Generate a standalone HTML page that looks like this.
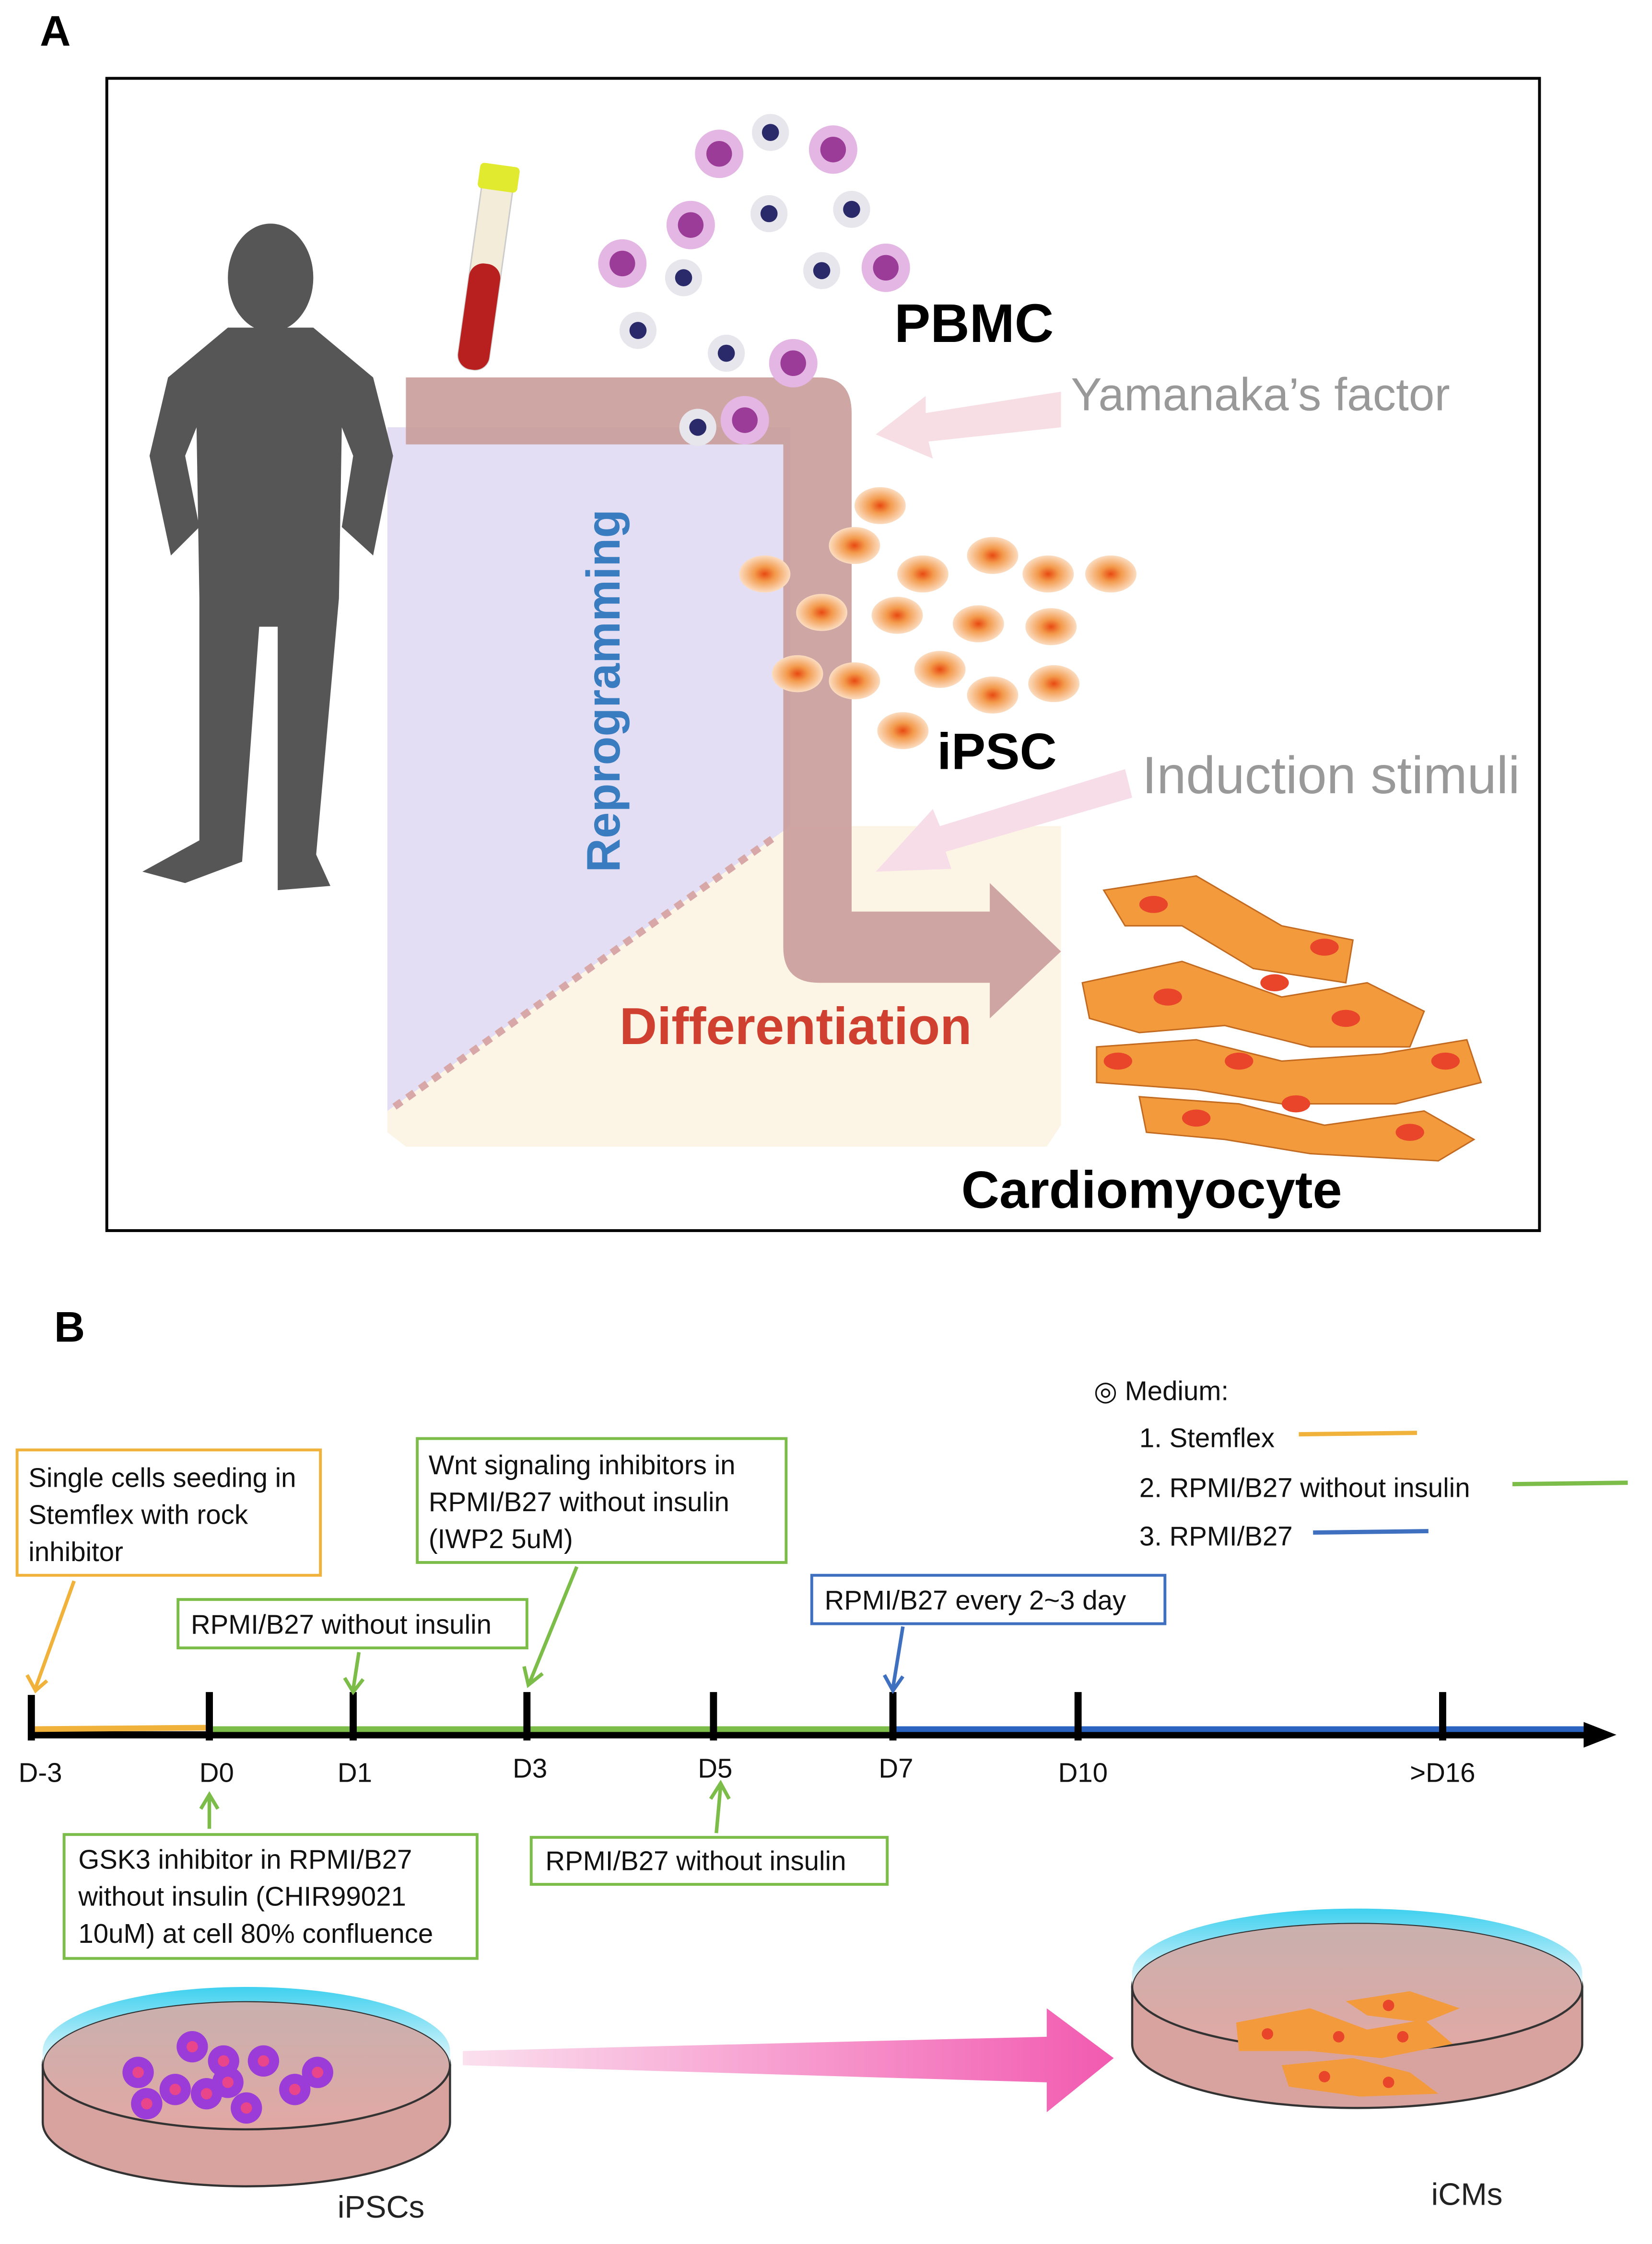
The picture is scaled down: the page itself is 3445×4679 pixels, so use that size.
<!DOCTYPE html>
<html><head><meta charset="utf-8"><style>html,body{margin:0;padding:0;background:#fff}svg{display:block}</style></head>
<body>
<svg width="3445" height="4679" viewBox="0 0 1160 1575.5" preserveAspectRatio="none" xmlns="http://www.w3.org/2000/svg" font-family="Liberation Sans, sans-serif">
<defs>
<linearGradient id="cy" x1="0" y1="0" x2="0" y2="1"><stop offset="0" stop-color="#3fd0ef"/><stop offset="1" stop-color="#e8f8fc"/></linearGradient>
<linearGradient id="pk" x1="0" y1="0" x2="0" y2="1"><stop offset="0" stop-color="#c8b0ae"/><stop offset="1" stop-color="#e2a8a4"/></linearGradient>
<linearGradient id="ar" x1="0" y1="0" x2="1" y2="0"><stop offset="0" stop-color="#fbe0ee"/><stop offset="1" stop-color="#f25ab0"/></linearGradient>
<radialGradient id="cell"><stop offset="0" stop-color="#e84a10"/><stop offset="0.4" stop-color="#f39a4c"/><stop offset="1" stop-color="#fbdcc0"/></radialGradient>
</defs>
<text x="28" y="32" font-size="30" font-weight="bold">A</text>
<rect x="75" y="55" width="1006" height="809" fill="none" stroke="#000" stroke-width="2"/>
<polygon points="272,300 555,300 555,580 272,780" fill="#e3def4"/>
<polygon points="272,780 555,580 745,580 745,790 735,805 285,805 272,795" fill="#fcf4e4"/>
<line x1="277" y1="777" x2="545" y2="587" stroke="#d8a8a8" stroke-width="5" stroke-dasharray="6,5"/>
<path d="M285,265 L575,265 Q598,265 598,290 L598,640 L695,640 L695,620 L745,668 L695,715 L695,690 L575,690 Q550,690 550,665 L550,312 L285,312 Z" fill="#c99c9a" opacity="0.9"/>
<g fill="#565656">
<ellipse cx="190" cy="195" rx="30" ry="38"/>
<path d="M160,230 L220,230 L262,265 L276,320 L262,390 L240,370 L248,320 L240,300 L238,420 L222,600 L232,622 L195,625 L195,440 L182,440 L170,605 L130,620 L100,612 L140,590 L140,420 L138,300 L130,320 L140,370 L120,390 L105,320 L118,265 Z"/>
</g>
<g transform="rotate(8 340 190)"><rect x="330" y="120" width="22" height="140" rx="10" fill="#f2ecd8" stroke="#ccc"/><rect x="330" y="185" width="22" height="75" rx="10" fill="#b82020"/><rect x="327" y="115" width="28" height="18" rx="3" fill="#e2ea30"/></g>
<g>
<circle cx="505" cy="108" r="17" fill="#e3b6e3"/><circle cx="505" cy="108" r="9" fill="#9a3c98"/>
<circle cx="585" cy="105" r="17" fill="#e3b6e3"/><circle cx="585" cy="105" r="9" fill="#9a3c98"/>
<circle cx="485" cy="158" r="17" fill="#e3b6e3"/><circle cx="485" cy="158" r="9" fill="#9a3c98"/>
<circle cx="437" cy="185" r="17" fill="#e3b6e3"/><circle cx="437" cy="185" r="9" fill="#9a3c98"/>
<circle cx="622" cy="188" r="17" fill="#e3b6e3"/><circle cx="622" cy="188" r="9" fill="#9a3c98"/>
<circle cx="557" cy="255" r="17" fill="#e3b6e3"/><circle cx="557" cy="255" r="9" fill="#9a3c98"/>
<circle cx="523" cy="295" r="17" fill="#e3b6e3"/><circle cx="523" cy="295" r="9" fill="#9a3c98"/>
<g fill="#e6e6ec"><circle cx="541" cy="93" r="13"/><circle cx="540" cy="150" r="13"/><circle cx="598" cy="147" r="13"/><circle cx="577" cy="190" r="13"/><circle cx="480" cy="195" r="13"/><circle cx="448" cy="232" r="13"/><circle cx="510" cy="248" r="13"/><circle cx="490" cy="300" r="13"/></g>
<g fill="#2a2a6a"><circle cx="541" cy="93" r="6"/><circle cx="540" cy="150" r="6"/><circle cx="598" cy="147" r="6"/><circle cx="577" cy="190" r="6"/><circle cx="480" cy="195" r="6"/><circle cx="448" cy="232" r="6"/><circle cx="510" cy="248" r="6"/><circle cx="490" cy="300" r="6"/></g>
</g>
<text x="628" y="240" font-size="38" font-weight="bold">PBMC</text>
<path d="M745,275 L650,290 L650,278 L615,305 L655,322 L652,310 L745,300 Z" fill="#f7dde4"/>
<text x="752" y="288" font-size="32.5" fill="#999">Yamanaka’s factor</text>
<g fill="url(#cell)">
<ellipse cx="618" cy="355" rx="18" ry="13"/><ellipse cx="600" cy="383" rx="18" ry="13"/><ellipse cx="537" cy="403" rx="18" ry="13"/><ellipse cx="648" cy="403" rx="18" ry="13"/><ellipse cx="697" cy="390" rx="18" ry="13"/><ellipse cx="736" cy="403" rx="18" ry="13"/><ellipse cx="780" cy="403" rx="18" ry="13"/><ellipse cx="577" cy="430" rx="18" ry="13"/><ellipse cx="630" cy="432" rx="18" ry="13"/><ellipse cx="687" cy="438" rx="18" ry="13"/><ellipse cx="738" cy="440" rx="18" ry="13"/><ellipse cx="560" cy="473" rx="18" ry="13"/><ellipse cx="600" cy="478" rx="18" ry="13"/><ellipse cx="660" cy="470" rx="18" ry="13"/><ellipse cx="697" cy="488" rx="18" ry="13"/><ellipse cx="740" cy="480" rx="18" ry="13"/><ellipse cx="634" cy="513" rx="18" ry="13"/>
</g>
<text x="658" y="540" font-size="36" font-weight="bold">iPSC</text>
<path d="M790,540 L660,580 L655,568 L615,612 L668,610 L664,598 L795,560 Z" fill="#f7dde8"/>
<text x="802" y="557" font-size="37" fill="#999">Induction stimuli</text>
<text transform="translate(435,485) rotate(-90)" text-anchor="middle" font-size="33" font-weight="bold" fill="#3a7cc0">Reprogramming</text>
<text x="435" y="733" font-size="36.5" font-weight="bold" fill="#d04030">Differentiation</text>
<g fill="#f39a3c" stroke="#c26a20" stroke-width="1">
<path d="M775,625 L840,615 L900,650 L950,660 L945,690 L880,680 L830,650 L790,650 Z"/>
<path d="M760,690 L830,675 L900,700 L960,690 L1000,710 L990,735 L920,735 L860,720 L800,725 L765,715 Z"/>
<path d="M770,735 L840,730 L900,745 L970,740 L1030,730 L1040,760 L980,775 L900,775 L840,765 L770,760 Z"/>
<path d="M800,770 L870,775 L930,790 L1000,780 L1035,800 L1010,815 L920,810 L860,800 L805,795 Z"/>
</g>
<g fill="#e8452a"><ellipse cx="810" cy="635" rx="10" ry="6"/><ellipse cx="930" cy="665" rx="10" ry="6"/><ellipse cx="820" cy="700" rx="10" ry="6"/><ellipse cx="945" cy="715" rx="10" ry="6"/><ellipse cx="870" cy="745" rx="10" ry="6"/><ellipse cx="1015" cy="745" rx="10" ry="6"/><ellipse cx="785" cy="745" rx="10" ry="6"/><ellipse cx="910" cy="775" rx="10" ry="6"/><ellipse cx="990" cy="795" rx="10" ry="6"/><ellipse cx="840" cy="785" rx="10" ry="6"/><ellipse cx="895" cy="690" rx="10" ry="6"/></g>
<text x="675" y="848" font-size="37" font-weight="bold">Cardiomyocyte</text>

<text x="38" y="942" font-size="30" font-weight="bold">B</text>
<g font-size="19" fill="#111">
<text x="768" y="983">◎ Medium:</text>
<text x="800" y="1016">1. Stemflex</text><line x1="912" y1="1007" x2="995" y2="1006" stroke="#f0b23a" stroke-width="3"/>
<text x="800" y="1051">2. RPMI/B27 without insulin</text><line x1="1062" y1="1042" x2="1143" y2="1041" stroke="#7cbd4a" stroke-width="3"/>
<text x="800" y="1085">3. RPMI/B27</text><line x1="922" y1="1076" x2="1003" y2="1075" stroke="#3f70c0" stroke-width="3"/>
</g>
<line x1="20" y1="1218" x2="1118" y2="1218" stroke="#000" stroke-width="5"/>
<polygon points="1112,1209 1135,1218 1112,1227" fill="#000"/>
<line x1="22" y1="1214" x2="147" y2="1213" stroke="#f0b23a" stroke-width="4"/>
<line x1="147" y1="1214" x2="627" y2="1214" stroke="#7cbd4a" stroke-width="4"/>
<line x1="627" y1="1214" x2="1112" y2="1214" stroke="#2b64c0" stroke-width="4"/>
<g stroke="#000" stroke-width="5">
<line x1="22" y1="1190" x2="22" y2="1222"/><line x1="147" y1="1188" x2="147" y2="1222"/><line x1="248" y1="1188" x2="248" y2="1222"/><line x1="370" y1="1188" x2="370" y2="1222"/><line x1="501" y1="1188" x2="501" y2="1222"/><line x1="627" y1="1188" x2="627" y2="1222"/><line x1="757" y1="1188" x2="757" y2="1222"/><line x1="1013" y1="1188" x2="1013" y2="1222"/>
</g>
<g font-size="19" fill="#111">
<text x="13" y="1251">D-3</text><text x="140" y="1251">D0</text><text x="237" y="1251">D1</text><text x="360" y="1248">D3</text><text x="490" y="1248">D5</text><text x="617" y="1248">D7</text><text x="743" y="1251">D10</text><text x="990" y="1251">&gt;D16</text>
</g>
<g font-size="19" fill="#111" stroke-width="2">
<rect x="12" y="1018" width="213" height="88" fill="#fff" stroke="#f0b23a"/>
<text x="20" y="1044">Single cells seeding in</text><text x="20" y="1070">Stemflex with rock</text><text x="20" y="1096">inhibitor</text>
<rect x="125" y="1123" width="245" height="34" fill="#fff" stroke="#7cbd4a"/>
<text x="134" y="1147">RPMI/B27 without insulin</text>
<rect x="293" y="1010" width="259" height="87" fill="#fff" stroke="#7cbd4a"/>
<text x="301" y="1035">Wnt signaling inhibitors in</text><text x="301" y="1061">RPMI/B27 without insulin</text><text x="301" y="1087">(IWP2 5uM)</text>
<rect x="570" y="1106" width="248" height="34" fill="#fff" stroke="#3f70c0"/>
<text x="579" y="1130">RPMI/B27 every 2~3 day</text>
<rect x="45" y="1288" width="290" height="87" fill="#fff" stroke="#7cbd4a"/>
<text x="55" y="1312">GSK3 inhibitor in RPMI/B27</text><text x="55" y="1338">without insulin (CHIR99021</text><text x="55" y="1364">10uM) at cell 80% confluence</text>
<rect x="373" y="1290" width="250" height="33" fill="#fff" stroke="#7cbd4a"/>
<text x="383" y="1313">RPMI/B27 without insulin</text>
</g>
<g stroke-width="2.5" fill="none">
<path d="M52,1110 L25,1185 M19,1176 L25,1187 L33,1180" stroke="#f0b23a"/>
<path d="M252,1160 L248,1186 M242,1178 L248,1188 L255,1179" stroke="#7cbd4a"/>
<path d="M405,1100 L372,1181 M368,1170 L371,1183 L381,1175" stroke="#7cbd4a"/>
<path d="M634,1142 L627,1185 M621,1176 L627,1187 L634,1177" stroke="#3f70c0"/>
<path d="M147,1284 L147,1262 M141,1270 L147,1260 L153,1270" stroke="#7cbd4a"/>
<path d="M503,1287 L506,1254 M499,1263 L506,1252 L512,1263" stroke="#7cbd4a"/>
</g>
<path d="M30,1450 L30,1490 A143,45 0 0 0 316,1490 L316,1450 Z" fill="#d8a39e" stroke="#333" stroke-width="1.5"/>
<ellipse cx="173" cy="1450" rx="143" ry="45" fill="url(#pk)" stroke="#333" stroke-width="1.5"/>
<path d="M30,1450 A143,45 0 0 1 316,1450 L316,1440 A143,45 0 0 0 30,1440 Z" fill="url(#cy)"/>
<g fill="#9b3bd8"><circle cx="135" cy="1437" r="11"/><circle cx="157" cy="1447" r="11"/><circle cx="185" cy="1447" r="11"/><circle cx="97" cy="1455" r="11"/><circle cx="123" cy="1467" r="11"/><circle cx="145" cy="1470" r="11"/><circle cx="173" cy="1480" r="11"/><circle cx="207" cy="1467" r="11"/><circle cx="223" cy="1455" r="11"/><circle cx="103" cy="1477" r="11"/><circle cx="160" cy="1462" r="11"/></g>
<g fill="#e8458a"><circle cx="135" cy="1437" r="4"/><circle cx="157" cy="1447" r="4"/><circle cx="185" cy="1447" r="4"/><circle cx="97" cy="1455" r="4"/><circle cx="123" cy="1467" r="4"/><circle cx="145" cy="1470" r="4"/><circle cx="173" cy="1480" r="4"/><circle cx="207" cy="1467" r="4"/><circle cx="223" cy="1455" r="4"/><circle cx="103" cy="1477" r="4"/><circle cx="160" cy="1462" r="4"/></g>
<polygon points="325,1440 735,1430 735,1410 782,1445 735,1483 735,1462 325,1450" fill="url(#ar)"/>
<path d="M795,1395 L795,1435 A158,45 0 0 0 1111,1435 L1111,1395 Z" fill="#d8a39e" stroke="#333" stroke-width="1.5"/>
<ellipse cx="953" cy="1395" rx="158" ry="45" fill="url(#pk)" stroke="#333" stroke-width="1.5"/>
<path d="M795,1395 A158,45 0 0 1 1111,1395 L1111,1385 A158,45 0 0 0 795,1385 Z" fill="url(#cy)"/>
<g fill="#f39a3c"><path d="M868,1420 L920,1410 L960,1425 L1000,1418 L1020,1435 L970,1445 L920,1440 L870,1440 Z"/><path d="M900,1450 L950,1445 L990,1455 L1010,1470 L955,1472 L905,1465 Z"/><path d="M945,1405 L990,1398 L1025,1410 L1000,1420 L960,1415 Z"/></g>
<g fill="#e8452a"><circle cx="890" cy="1428" r="4"/><circle cx="940" cy="1430" r="4"/><circle cx="985" cy="1430" r="4"/><circle cx="930" cy="1458" r="4"/><circle cx="975" cy="1462" r="4"/><circle cx="975" cy="1408" r="4"/></g>
<text x="237" y="1557" font-size="22" fill="#222">iPSCs</text>
<text x="1005" y="1548" font-size="22" fill="#222">iCMs</text>
</svg>
</body></html>
